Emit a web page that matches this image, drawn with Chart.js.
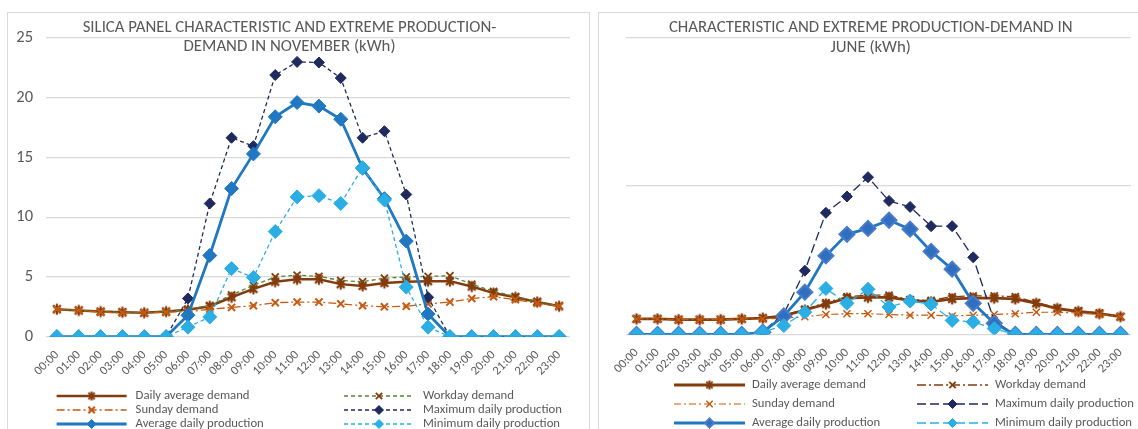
<!DOCTYPE html>
<html>
<head>
<meta charset="utf-8">
<script src="https://cdn.jsdelivr.net/npm/chart.js@4.4.1/dist/chart.umd.min.js"></script>
<style>
  html, body { margin: 0; padding: 0; background: #fff; overflow: hidden; }
  body { width: 1138px; height: 429px; position: relative; }
  .panel { position: absolute; border: 1px solid #d9d9d9; box-sizing: border-box; background: #fff; overflow: hidden; }
  #p1 { left: 7px; top: 12px; width: 583px; height: 450px; }
  #p2 { left: 598px; top: 12px; width: 560px; height: 450px; }
  canvas { position: absolute; left: 0; top: 0; }
</style>
</head>
<body>
<div class="panel" id="p1"><canvas id="nov" width="581" height="440"></canvas></div>
<div class="panel" id="p2"><canvas id="jun" width="558" height="440"></canvas></div>
<script>
// Hour of day (category axis)
const hours = ['00:00','01:00','02:00','03:00','04:00','05:00','06:00','07:00','08:00','09:00','10:00','11:00',
               '12:00','13:00','14:00','15:00','16:00','17:00','18:00','19:00','20:00','21:00','22:00','23:00'];

const seriesNames = ['Daily average demand', 'Workday demand', 'Sunday demand',
                     'Maximum daily production', 'Average daily production', 'Minimum daily production'];

// November, kWh
const novDemandAvg  = [2.3,2.2,2.1,2.05,2.0,2.1,2.25,2.55,3.3,4.0,4.6,4.8,4.8,4.4,4.25,4.5,4.6,4.65,4.65,4.2,3.65,3.3,2.9,2.55];
const novDemandWork = [2.3,2.2,2.1,2.05,2.0,2.1,2.3,2.6,3.5,4.3,5.0,5.15,5.05,4.7,4.6,4.9,5.0,5.05,5.1,4.4,3.8,3.35,2.95,2.6];
const novDemandSun  = [2.3,2.2,2.05,2.0,2.0,2.05,2.1,2.3,2.45,2.6,2.85,2.9,2.9,2.75,2.6,2.5,2.55,2.75,2.9,3.2,3.35,3.1,2.8,2.55];
const novProdMax    = [0,0,0,0,0,0,3.2,11.15,16.65,15.95,21.9,23.0,22.95,21.65,16.65,17.2,11.9,3.3,0,0,0,0,0,0];
const novProdAvg    = [0,0,0,0,0,0,1.8,6.8,12.4,15.3,18.4,19.6,19.3,18.2,14.1,11.55,8.0,1.9,0,0,0,0,0,0];
const novProdMin    = [0,0,0,0,0,0,0.8,1.65,5.7,4.95,8.8,11.7,11.8,11.15,14.15,11.45,4.15,0.8,0,0,0,0,0,0];

// June, kWh
const junDemandAvg  = [1.05,1.05,1.0,1.0,1.0,1.05,1.1,1.25,1.65,2.05,2.45,2.5,2.5,2.3,2.2,2.4,2.45,2.45,2.4,2.1,1.75,1.55,1.4,1.2];
const junDemandWork = [1.05,1.05,1.0,1.0,1.0,1.05,1.1,1.3,1.7,2.15,2.55,2.65,2.65,2.35,2.3,2.55,2.6,2.6,2.55,2.15,1.8,1.6,1.45,1.2];
const junDemandSun  = [1.05,1.05,1.0,1.0,1.0,1.05,1.05,1.1,1.2,1.35,1.4,1.4,1.35,1.3,1.3,1.25,1.3,1.35,1.4,1.5,1.5,1.45,1.35,1.2];
const junProdMax    = [0,0,0,0,0,0,0.2,1.4,4.3,8.2,9.3,10.6,9.0,8.6,7.3,7.3,5.2,0.9,0,0,0,0,0,0];
const junProdAvg    = [0,0,0,0,0,0,0.15,1.25,2.85,5.3,6.75,7.15,7.7,7.1,5.6,4.4,2.1,0.75,0,0,0,0,0,0];
const junProdMin    = [0,0,0,0,0,0,0.15,0.6,1.5,3.1,2.1,3.05,1.85,2.25,2.05,0.95,0.85,0.4,0,0,0,0,0,0];

const novTitle = ['SILICA PANEL CHARACTERISTIC AND EXTREME PRODUCTION-', 'DEMAND IN NOVEMBER (kWh)'];
const junTitle = ['CHARACTERISTIC AND EXTREME PRODUCTION-DEMAND IN', 'JUNE (kWh)'];

const FONT = "Carlito, Lato, 'Open Sans', sans-serif";
const GREY = '#595959';

// Asterisk-shaped marker (diagonal cross plus a vertical stroke)
function asterisk(color, r, lw) {
  const c = document.createElement('canvas');
  const s = Math.ceil(2 * r + lw + 2);
  c.width = s; c.height = s;
  const g = c.getContext('2d');
  const m = s / 2, d = r * Math.SQRT1_2;
  g.strokeStyle = color;
  g.lineWidth = lw;
  g.lineCap = 'butt';
  g.beginPath();
  g.moveTo(m - d, m - d); g.lineTo(m + d, m + d);
  g.moveTo(m + d, m - d); g.lineTo(m - d, m + d);
  g.moveTo(m, m - r); g.lineTo(m, m + r);
  g.stroke();
  return c;
}

// Title lines and a two-column legend, painted on top of the plot
const panelText = {
  id: 'panelText',
  afterDraw(chart, args, o) {
    const ctx = chart.ctx;
    ctx.save();
    ctx.fillStyle = GREY;
    ctx.textBaseline = 'middle';
    ctx.textAlign = 'center';
    ctx.font = o.titleSize + 'px ' + FONT;
    o.title.forEach((t, i) => ctx.fillText(t, o.titleX, o.titleY + i * o.titleGap));

    chart.data.datasets.forEach((ds, i) => {
      const col = i % 2, row = Math.floor(i / 2);
      const x0 = o.cols[col], y = o.rows[row], w = o.sample;
      ctx.save();
      ctx.strokeStyle = ds.borderColor;
      ctx.lineWidth = ds.borderWidth;
      ctx.setLineDash(ds.borderDash || []);
      ctx.beginPath();
      ctx.moveTo(x0, y);
      ctx.lineTo(x0 + w, y);
      ctx.stroke();
      ctx.setLineDash([]);
      ctx.fillStyle = ds.pointBackgroundColor;
      ctx.strokeStyle = ds.pointBorderColor;
      ctx.lineWidth = ds.pointBorderWidth;
      Chart.helpers.drawPoint(ctx, {
        pointStyle: ds.legendPoint || ds.pointStyle, rotation: 0,
        radius: Math.min(ds.pointRadius, 4.5), borderWidth: ds.pointBorderWidth
      }, x0 + w / 2, y);
      ctx.restore();
      ctx.fillStyle = GREY;
      ctx.textAlign = 'left';
      ctx.font = o.legendSize + 'px ' + FONT;
      ctx.fillText(seriesNames[i], x0 + w + o.textGap, y);
    });
    ctx.restore();
  }
};

function line(data, s) {
  return Object.assign({
    data, fill: false, tension: 0, borderDash: [],
    pointBackgroundColor: s.borderColor, pointBorderColor: s.borderColor
  }, s);
}

function buildDatasets(vals, st) {
  return vals.map((d, i) => line(d, Object.assign({ label: seriesNames[i] }, st[i])));
}

const novStyles = [
  { borderColor: '#843c0c', borderWidth: 2.5, pointStyle: asterisk('#843c0c', 5.5, 2.2),
    legendPoint: asterisk('#843c0c', 4.5, 2), pointRadius: 5.5, pointBorderWidth: 2, order: 5 },
  { borderColor: '#548235', borderWidth: 1.3, borderDash: [4, 3], pointStyle: 'crossRot', pointRadius: 5,
    pointBorderWidth: 1.8, pointBorderColor: '#843c0c', pointBackgroundColor: '#843c0c', order: 4 },
  { borderColor: '#c55a11', borderWidth: 1.3, borderDash: [8, 3, 2, 3], pointStyle: 'crossRot', pointRadius: 5,
    pointBorderWidth: 2, order: 3 },
  { borderColor: '#1f2a5e', borderWidth: 1.3, borderDash: [4, 3], pointStyle: 'rectRot', pointRadius: 5.5,
    pointBorderWidth: 1, order: 2 },
  { borderColor: '#1f78c1', borderWidth: 2.8, pointStyle: 'rectRot', pointRadius: 7, pointBorderWidth: 1, order: 1 },
  { borderColor: '#2aaee4', borderWidth: 1.3, borderDash: [4, 3], pointStyle: 'rectRot', pointRadius: 7,
    pointBorderWidth: 1, order: 0 }
];

const junStyles = [
  { borderColor: '#843c0c', borderWidth: 2.8, pointStyle: asterisk('#843c0c', 5.5, 2.4),
    legendPoint: asterisk('#843c0c', 4.5, 2), pointRadius: 5.5, pointBorderWidth: 2, order: 5 },
  { borderColor: '#843c0c', borderWidth: 1.3, borderDash: [9, 3, 2, 3], pointStyle: 'crossRot', pointRadius: 5,
    pointBorderWidth: 1.8, order: 4 },
  { borderColor: '#c55a11', borderWidth: 1.2, borderDash: [7, 3, 2, 3], pointStyle: 'crossRot', pointRadius: 5,
    pointBorderWidth: 1.5, order: 3 },
  { borderColor: '#1f2a5e', borderWidth: 1.3, borderDash: [9, 4], pointStyle: 'rectRot', pointRadius: 5.5,
    pointBorderWidth: 1, order: 2 },
  { borderColor: '#1f78c1', borderWidth: 2.8, pointStyle: 'rectRot', pointRadius: 7.5, pointBorderWidth: 2,
    pointBackgroundColor: '#2f6fbf', pointBorderColor: '#4a7bc8', order: 1 },
  { borderColor: '#2aaee4', borderWidth: 1.3, borderDash: [9, 4], pointStyle: 'rectRot', pointRadius: 7,
    pointBorderWidth: 1, order: 0 }
];

function makeChart(id, datasets, p) {
  return new Chart(document.getElementById(id), {
    type: 'line',
    data: { labels: hours, datasets },
    plugins: [panelText],
    options: {
      responsive: false,
      animation: false,
      devicePixelRatio: 1,
      layout: { padding: { top: p.top, right: p.right, bottom: 0, left: 0 } },
      plugins: {
        legend: { display: false },
        tooltip: { enabled: false },
        panelText: p.text
      },
      scales: {
        x: {
          offset: true,
          grid: { display: false },
          border: { display: false },
          ticks: { color: GREY, font: { family: FONT, size: 12.5 }, minRotation: 45, maxRotation: 45,
                   autoSkip: false, padding: 3 },
          afterFit(s) { s.height = p.xHeight; }
        },
        y: {
          min: 0, max: p.yMax,
          grid: { color: '#d9d9d9', lineWidth: 1.3, drawTicks: false },
          border: { display: false },
          ticks: { display: p.yLabels, stepSize: p.yStep, color: GREY, font: { family: FONT, size: 16.5 }, padding: 13 },
          afterFit(s) { s.width = p.yWidth; }
        }
      }
    }
  });
}

makeChart('nov', buildDatasets([novDemandAvg, novDemandWork, novDemandSun, novProdMax, novProdAvg, novProdMin], novStyles), {
  top: 25, right: 19, xHeight: 116.3, yWidth: 38, yMax: 25, yStep: 5, yLabels: true,
  text: { title: novTitle, titleX: 281.5, titleY: 14.5, titleGap: 19, titleSize: 16.8,
          cols: [48.6, 336], rows: [383, 397, 411], sample: 70, textGap: 9, legendSize: 12.7 }
});

makeChart('jun', buildDatasets([junDemandAvg, junDemandWork, junDemandSun, junProdMax, junProdAvg, junProdMin], junStyles), {
  top: 24.7, right: 26, xHeight: 118.5, yWidth: 27, yMax: 20, yStep: 10, yLabels: false,
  text: { title: junTitle, titleX: 271.7, titleY: 14.5, titleGap: 20, titleSize: 16.8,
          cols: [75, 318], rows: [372, 391, 410], sample: 71, textGap: 7, legendSize: 12.7 }
});
</script>
</body>
</html>
